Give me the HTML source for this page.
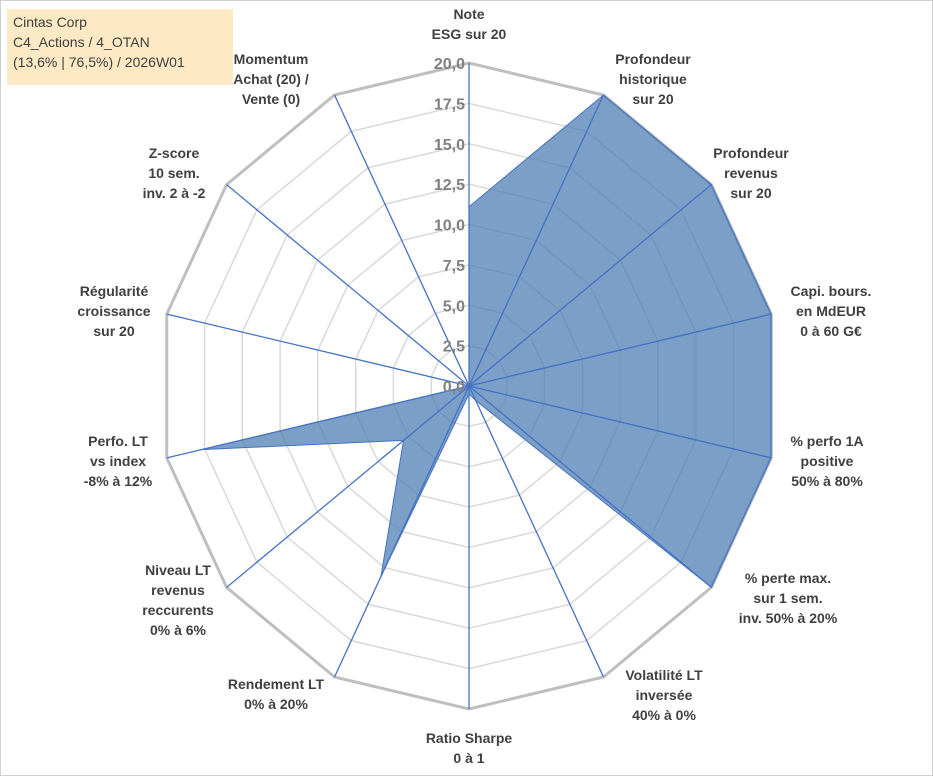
<!DOCTYPE html>
<html><head><meta charset="utf-8"><style>
body{margin:0;background:#fff;font-family:"Liberation Sans",sans-serif}
#wrap{position:relative;width:933px;height:776px;border:1px solid #d0d0d0;box-sizing:border-box;overflow:hidden}
svg{position:absolute;left:0;top:0}
#info{position:absolute;left:6px;top:8px;width:226px;height:76px;background:#fde9c4;color:#404040;font-size:14px;line-height:20px;padding:3px 6px;box-sizing:border-box}
</style></head><body>
<div id="wrap">
<svg id="chart" width="933" height="776"></svg>
<div id="info">Cintas Corp<br>C4_Actions / 4_OTAN<br>(13,6% | 76,5%) / 2026W01</div>
</div>
<script>
const categories=[["Note","ESG sur 20"],["Profondeur","historique","sur 20"],["Profondeur","revenus","sur 20"],["Capi. bours.","en MdEUR","0 à 60 G€"],["% perfo 1A","positive","50% à 80%"],["% perte max.","sur 1 sem.","inv. 50% à 20%"],["Volatilité LT","inversée","40% à 0%"],["Ratio Sharpe","0 à 1"],["Rendement LT","0% à 20%"],["Niveau LT","revenus","reccurents","0% à 6%"],["Perfo. LT","vs index","-8% à 12%"],["Régularité","croissance","sur 20"],["Z-score","10 sem.","inv. 2 à -2"],["Momentum","Achat (20) /","Vente (0)"]];
const values=[11.1,20,20,20,20,20,1.0,0.5,13.1,5.4,17.7,0,0,0];
const ticks=[0,2.5,5,7.5,10,12.5,15,17.5,20];
const labelPos=[[468,23],[652,78],[750,172],[830,310],[826,460],[787,597],[663,694],[468,747],[275,693],[177,599],[117,460],[113,310],[173,172],[270,78]];
const cx=468,cy=385,rx=310,ry=323,maxV=20;
const svg=document.getElementById('chart');const NS='http://www.w3.org/2000/svg';
const n=categories.length;
function pt(i,v){const a=i*2*Math.PI/n;return [cx+rx*(v/maxV)*Math.sin(a),cy-ry*(v/maxV)*Math.cos(a)];}
function mk(t,at){const e=document.createElementNS(NS,t);for(const k in at)e.setAttribute(k,at[k]);svg.appendChild(e);return e;}
ticks.forEach((t,j)=>{if(t===0)return;const p=[];for(let i=0;i<n;i++)p.push(pt(i,t).join(','));
const g=mk('polygon',{points:p.join(' '),fill:'none',stroke:t===maxV?'#bfbfbf':'#d9d9d9','stroke-width':t===maxV?3:1.5});
});
const poly=mk('polygon',{points:values.map((v,i)=>pt(i,v).join(',')).join(' '),fill:'#4f7fb3','fill-opacity':0.75,stroke:'#4472c4','stroke-width':1});

for(let i=0;i<n;i++){const e=pt(i,maxV);const l=mk('line',{x1:cx,y1:cy,x2:e[0],y2:e[1],stroke:'#4472c4','stroke-width':1.3});
}
ticks.forEach(t=>{const p=pt(0,t);const tx=mk('text',{x:p[0]-4,y:p[1]+6,'text-anchor':'end','font-size':16,'font-weight':'bold',fill:'#808080','font-family':'Liberation Sans, sans-serif'});
tx.textContent=t.toFixed(1).replace('.',',');});
categories.forEach((c,i)=>{const x=labelPos[i][0],y=labelPos[i][1];
const lh=20;const y0=y-(c.length-1)*lh/2+5;
const tx=mk('text',{x:x,y:y0,'text-anchor':'middle','font-size':14,'font-weight':'bold',fill:'#404040','font-family':'Liberation Sans, sans-serif'});
c.forEach((ln,k)=>{const ts=document.createElementNS(NS,'tspan');ts.setAttribute('x',x);ts.setAttribute('y',y0+k*lh);ts.textContent=ln;tx.appendChild(ts);});
});
</script>
</body></html>
